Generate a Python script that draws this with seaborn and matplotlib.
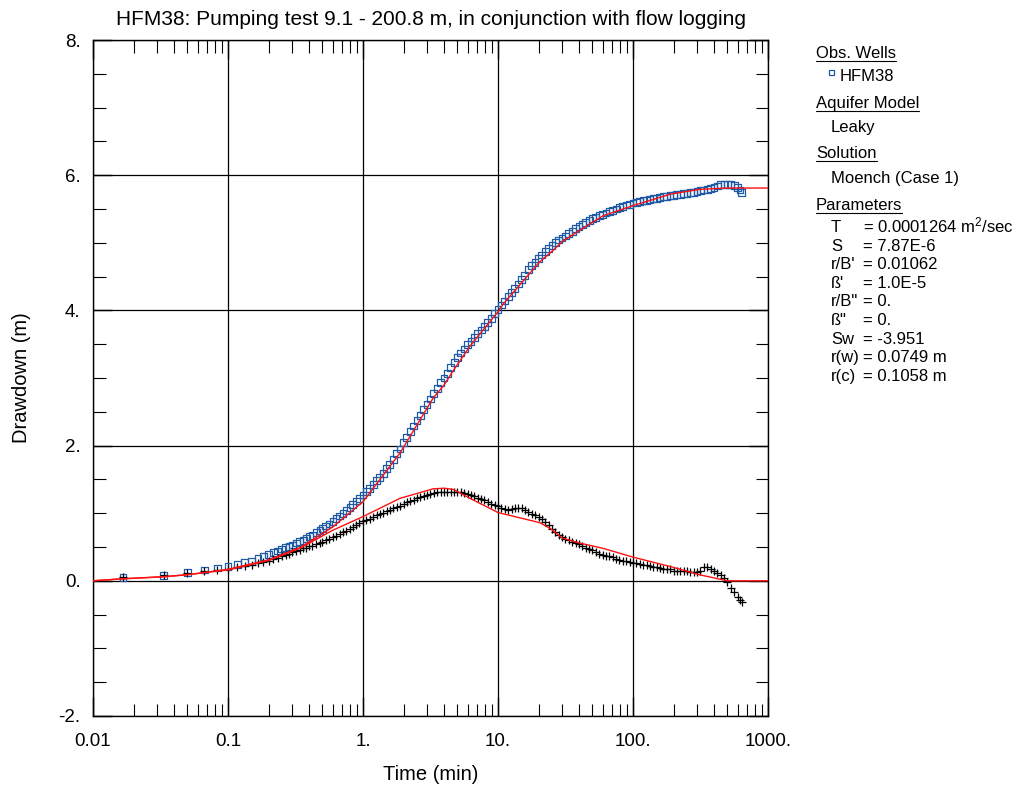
import numpy as np
import pandas as pd
import matplotlib
matplotlib.use("Agg")
import matplotlib.pyplot as plt
import seaborn as sns
from matplotlib.lines import Line2D
from matplotlib.ticker import (LogLocator, MultipleLocator, FuncFormatter,
                               NullFormatter)
from matplotlib.transforms import IdentityTransform

# ---- observation well HFM38: elapsed time (min), drawdown and derivative (m)
time_min = [
    0.0167, 0.0333, 0.05, 0.0667, 0.0833, 0.1, 0.117, 0.133, 0.15, 0.167,
    0.183, 0.2, 0.217, 0.233, 0.25, 0.267, 0.283, 0.3, 0.32, 0.34,
    0.36, 0.38, 0.40, 0.42, 0.45, 0.48, 0.50, 0.53, 0.56, 0.60,
    0.63, 0.67, 0.71, 0.75, 0.80, 0.84, 0.89, 0.94, 1.0, 1.06,
    1.12, 1.19, 1.26, 1.33, 1.41, 1.5, 1.58, 1.68, 1.78, 1.88,
    2.0, 2.11, 2.24, 2.37, 2.51, 2.66, 2.82, 2.98, 3.16, 3.35,
    3.55, 3.76, 3.98, 4.22, 4.47, 4.73, 5.01, 5.31, 5.62, 5.96,
    6.31, 6.68, 7.08, 7.5, 7.94, 8.41, 8.91, 9.44, 10.0, 10.6,
    11.2, 11.9, 12.6, 13.3, 14.1, 15.0, 15.8, 16.8, 17.8, 18.8,
    20.0, 21.1, 22.4, 23.7, 25.1, 26.6, 28.2, 29.8, 31.6, 33.5,
    35.5, 37.6, 39.8, 42.2, 44.7, 47.3, 50.1, 53.1, 56.2, 59.6,
    63.1, 66.8, 70.8, 75.0, 79.4, 84.1, 89.1, 94.4, 100.0, 106.0,
    112.0, 119.0, 126.0, 133.0, 141.0, 150.0, 158.0, 168.0, 178.0, 188.0,
    200.0, 211.0, 224.0, 237.0, 251.0, 266.0, 282.0, 298.0, 316.0, 335.0,
    355.0, 376.0, 398.0, 422.0, 447.0, 473.0, 501.0, 531.0, 562.0, 596.0,
    620.0, 640.0,
]
drawdown_m = [
    0.05, 0.08, 0.12, 0.16, 0.19, 0.21, 0.24, 0.27, 0.29, 0.33,
    0.36, 0.39, 0.42, 0.44, 0.47, 0.49, 0.51, 0.53, 0.56, 0.58,
    0.60, 0.62, 0.65, 0.67, 0.71, 0.75, 0.77, 0.81, 0.84, 0.88,
    0.92, 0.96, 1.00, 1.04, 1.09, 1.13, 1.18, 1.22, 1.27, 1.32,
    1.37, 1.42, 1.48, 1.53, 1.59, 1.66, 1.72, 1.80, 1.88, 1.95,
    2.04, 2.12, 2.21, 2.29, 2.37, 2.45, 2.53, 2.61, 2.69, 2.77,
    2.85, 2.93, 3.00, 3.07, 3.15, 3.23, 3.30, 3.37, 3.43, 3.49,
    3.54, 3.60, 3.66, 3.71, 3.76, 3.82, 3.88, 3.95, 4.01, 4.08,
    4.14, 4.20, 4.26, 4.32, 4.39, 4.46, 4.52, 4.60, 4.66, 4.71,
    4.77, 4.82, 4.87, 4.92, 4.96, 5.00, 5.04, 5.07, 5.10, 5.14,
    5.17, 5.21, 5.24, 5.27, 5.30, 5.33, 5.36, 5.38, 5.40, 5.42,
    5.44, 5.46, 5.48, 5.50, 5.52, 5.54, 5.56, 5.57, 5.59, 5.60,
    5.61, 5.62, 5.63, 5.64, 5.65, 5.66, 5.67, 5.68, 5.69, 5.70,
    5.70, 5.71, 5.72, 5.73, 5.73, 5.74, 5.75, 5.76, 5.77, 5.78,
    5.79, 5.80, 5.82, 5.84, 5.86, 5.86, 5.86, 5.86, 5.85, 5.82,
    5.78, 5.74,
]
derivative_m = [
    0.05, 0.08, 0.11, 0.14, 0.16, 0.18, 0.20, 0.22, 0.24, 0.26,
    0.28, 0.30, 0.32, 0.34, 0.36, 0.38, 0.40, 0.42, 0.44, 0.46,
    0.48, 0.49, 0.51, 0.52, 0.54, 0.56, 0.58, 0.60, 0.62, 0.65,
    0.67, 0.69, 0.72, 0.74, 0.76, 0.79, 0.82, 0.85, 0.88, 0.90,
    0.92, 0.95, 0.97, 0.99, 1.01, 1.03, 1.05, 1.07, 1.09, 1.11,
    1.14, 1.16, 1.18, 1.20, 1.22, 1.24, 1.26, 1.27, 1.29, 1.30,
    1.31, 1.32, 1.32, 1.32, 1.32, 1.32, 1.31, 1.31, 1.30, 1.28,
    1.27, 1.25, 1.23, 1.21, 1.19, 1.17, 1.14, 1.12, 1.10, 1.08,
    1.06, 1.05, 1.06, 1.08, 1.08, 1.07, 1.05, 1.02, 0.99, 0.97,
    0.94, 0.91, 0.87, 0.82, 0.77, 0.72, 0.68, 0.65, 0.62, 0.60,
    0.58, 0.56, 0.54, 0.52, 0.49, 0.47, 0.45, 0.43, 0.40, 0.38,
    0.37, 0.36, 0.35, 0.32, 0.31, 0.30, 0.29, 0.28, 0.27, 0.26,
    0.25, 0.24, 0.23, 0.22, 0.21, 0.20, 0.19, 0.18, 0.17, 0.17,
    0.15, 0.15, 0.14, 0.14, 0.14, 0.13, 0.13, 0.13, 0.15, 0.20,
    0.21, 0.18, 0.15, 0.12, 0.09, 0.04, -0.02, -0.10, -0.17, -0.24,
    -0.28, -0.31,
]

# ---- Moench (Case 1) leaky solution: drawdown and derivative type curves
model_time = [
    0.01, 0.0167, 0.0333, 0.05, 0.1, 0.2, 0.34, 0.6, 1.0, 1.88,
    3.3, 4.0, 4.7, 6.2, 10.0, 11.0, 20.4, 25.0, 30.0, 40.0,
    60.0, 100.0, 190.0, 310.0, 500.0, 1000.0,
]
model_drawdown = [
    0.0, 0.03, 0.06, 0.09, 0.17, 0.31, 0.49, 0.80, 1.17, 1.89,
    2.70, 2.90, 3.12, 3.47, 3.98, 4.10, 4.72, 4.87, 5.02, 5.18,
    5.40, 5.55, 5.72, 5.79, 5.81, 5.81,
]
model_derivative = [
    0.0, 0.03, 0.06, 0.09, 0.16, 0.30, 0.48, 0.75, 0.95, 1.22,
    1.36, 1.37, 1.35, 1.22, 1.01, 0.99, 0.86, 0.76, 0.63, 0.56,
    0.48, 0.35, 0.21, 0.09, 0.0, 0.0,
]

# ---- annotation panel
title = "HFM38: Pumping test 9.1 - 200.8 m, in conjunction with flow logging"
well_name = "HFM38"
aquifer_model = "Leaky"
solution = "Moench (Case 1)"
param_names = ["T", "S", "r/B'", "ß'", 'r/B"', 'ß"', "Sw", "r(w)", "r(c)"]
param_values = ["= 0.0001264 m$^{2}$/sec", "= 7.87E-6", "= 0.01062",
                "= 1.0E-5", "= 0.", "= 0.", "= -3.951", "= 0.0749 m",
                "= 0.1058 m"]

BLUE = "#1f5aa6"
RED = "#ff1010"

sns.set_style("white")
plt.rcParams["font.family"] = ["Liberation Sans", "DejaVu Sans"]
plt.rcParams["mathtext.fontset"] = "custom"
plt.rcParams["mathtext.rm"] = "Liberation Sans"
plt.rcParams["mathtext.it"] = "Liberation Sans:italic"
plt.rcParams["text.color"] = "black"
plt.rcParams["axes.labelcolor"] = "black"
plt.rcParams["xtick.color"] = "black"
plt.rcParams["ytick.color"] = "black"

W, H = 1014, 792
fig = plt.figure(figsize=(W / 100, H / 100), dpi=100)
ax = fig.add_axes([93 / W, 1 - 716 / H, (768 - 93) / W, (716 - 40) / H])

obs = pd.DataFrame({"t": time_min, "s": drawdown_m, "ds": derivative_m})
model = pd.DataFrame({"t": model_time, "s": model_drawdown,
                      "ds": model_derivative})

sns.scatterplot(data=obs, x="t", y="s", marker="s", s=24, color=BLUE,
                facecolors="none", edgecolor=BLUE, linewidth=0.9,
                ax=ax, zorder=3, legend=False)
sns.scatterplot(data=obs, x="t", y="ds", marker="+", s=36, color="black",
                linewidth=0.9, ax=ax, zorder=3, legend=False)
sns.lineplot(data=model, x="t", y="s", color=RED, lw=1.0, sort=False,
             estimator=None, ax=ax, zorder=4, legend=False)
sns.lineplot(data=model, x="t", y="ds", color=RED, lw=1.0, sort=False,
             estimator=None, ax=ax, zorder=4, legend=False)

ax.set_xscale("log")
ax.set_xlim(0.01, 1000)
ax.set_ylim(-2, 8)

ax.xaxis.set_major_locator(LogLocator(base=10, numticks=12))
ax.xaxis.set_minor_locator(LogLocator(base=10, subs=np.arange(2, 10),
                                      numticks=100))
ax.xaxis.set_minor_formatter(NullFormatter())
ax.xaxis.set_major_formatter(
    FuncFormatter(lambda v, p: f"{v:g}" if v < 1 else f"{int(round(v))}."))
ax.yaxis.set_major_locator(MultipleLocator(2))
ax.yaxis.set_minor_locator(MultipleLocator(0.5))
ax.yaxis.set_major_formatter(FuncFormatter(lambda v, p: f"{int(round(v))}."))

ax.tick_params(which="both", direction="in", top=True, right=True,
               bottom=True, left=True, colors="black", labelsize=13.5)
ax.tick_params(which="major", length=14, width=1.0)
ax.tick_params(which="minor", length=9, width=0.8)
ax.tick_params(axis="x", which="major", pad=12)
ax.tick_params(axis="y", which="major", pad=9)

ax.set_axisbelow(True)
ax.grid(which="major", color="black", lw=0.9)
ax.grid(which="minor", visible=False)
for sp in ax.spines.values():
    sp.set_color("black")
    sp.set_linewidth(1.0)

ax.set_xlabel("Time (min)", fontsize=14.5, color="black")
ax.set_ylabel("Drawdown (m)", fontsize=14.5, color="black")
ax.xaxis.set_label_coords(0.5, -0.072)
ax.yaxis.set_label_coords(-0.092, 0.5)

fig.text(431 / W, 1 - 25 / H, title, ha="center", va="baseline", fontsize=15)


def fx(px):
    return px / W


def fy(py):
    return 1 - py / H


FS = 12
headers = []
headers.append(fig.text(fx(816), fy(58), "Obs. Wells", fontsize=FS,
                        va="baseline"))
fig.add_artist(Line2D([fx(831)], [fy(72)], marker="s", ms=3.6,
                      mfc="none", mec=BLUE, mew=0.9, ls="none",
                      transform=fig.transFigure))
fig.text(fx(840), fy(81), well_name, fontsize=FS, va="baseline")
headers.append(fig.text(fx(816), fy(108), "Aquifer Model", fontsize=FS,
                        va="baseline"))
fig.text(fx(831), fy(132), aquifer_model, fontsize=FS, va="baseline")
headers.append(fig.text(fx(816), fy(158), "Solution", fontsize=FS,
                        va="baseline"))
fig.text(fx(831), fy(183), solution, fontsize=FS, va="baseline")
headers.append(fig.text(fx(816), fy(210), "Parameters", fontsize=FS,
                        va="baseline"))

for i, (name, val) in enumerate(zip(param_names, param_values)):
    base = 232 + i * 18.6
    fig.text(fx(831), fy(base), name, fontsize=FS, va="baseline")
    fig.text(fx(863), fy(base), val, fontsize=FS, va="baseline")

# underline each section heading
fig.canvas.draw()
renderer = fig.canvas.get_renderer()
for t in headers:
    bb = t.get_window_extent(renderer)
    base_disp = t.get_position()[1] * H
    y = base_disp - 2.5
    fig.add_artist(Line2D([bb.x0, bb.x1], [y, y], color="black", lw=0.8,
                          transform=IdentityTransform()))

fig.savefig("out.png", dpi=100)
